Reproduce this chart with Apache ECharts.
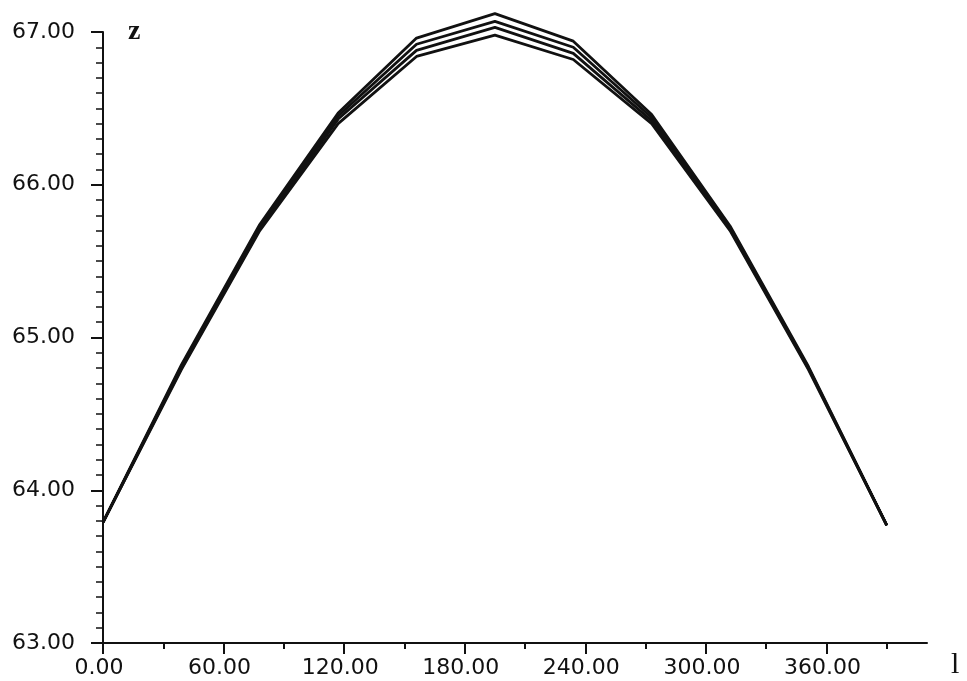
<!DOCTYPE html>
<html>
<head>
<meta charset="utf-8">
<script src="https://cdn.jsdelivr.net/npm/echarts@6/dist/echarts.min.js"></script>
<style>html,body{margin:0;padding:0;background:#fff;}#c{width:967px;height:681px;}</style>
</head>
<body>
<div id="c"></div>
<script>
var xValues = [0, 39, 78, 117, 156, 195, 234, 273, 312, 351, 390];
var line1 = [63.79, 64.82, 65.74, 66.47, 66.96, 67.12, 66.94, 66.46, 65.73, 64.81, 63.77];
var line2 = [63.79, 64.81, 65.72, 66.45, 66.92, 67.07, 66.90, 66.44, 65.72, 64.80, 63.77];
var line3 = [63.79, 64.80, 65.71, 66.43, 66.88, 67.03, 66.86, 66.42, 65.71, 64.80, 63.77];
var line4 = [63.79, 64.79, 65.70, 66.40, 66.84, 66.98, 66.82, 66.40, 65.70, 64.79, 63.77];
var xMajorTicks = [0, 60, 120, 180, 240, 300, 360];
var xMinorTicks = [30, 90, 150, 210, 270, 330, 390];
var yMin = 63, yMax = 67;

var chart = echarts.init(document.getElementById('c'));
function mk(vals){ return xValues.map(function(x,i){ return [x, vals[i]]; }); }
var lineStyle = {color:'#111', width:2.8};
var font = 'DejaVu Sans';
chart.setOption({
  animation:false,
  backgroundColor:'#fff',
  grid:{left:103, right:40, top:32, bottom:38},
  graphic:[{type:'text', left:951, top:650, style:{text:'l', fontFamily:'Liberation Serif', fontSize:30, fill:'#111'}}],
  xAxis:[{
    type:'value', min:0, max:410,
    axisLine:{show:true, lineStyle:{color:'#111', width:2}},
    axisTick:{show:true, customValues:xMajorTicks, length:11, lineStyle:{color:'#111', width:2}},
    axisLabel:{customValues:xMajorTicks, margin:14, color:'#111', fontFamily:font, fontSize:22, padding:[0,8,0,0],
      formatter:function(v){return v.toFixed(2);}},
    splitLine:{show:false}
  },{
    type:'value', min:0, max:410, position:'bottom',
    axisLine:{show:false},
    axisTick:{show:true, customValues:xMinorTicks, length:6, lineStyle:{color:'#111', width:2}},
    axisLabel:{show:false}, splitLine:{show:false}
  }],
  yAxis:{
    type:'value', min:yMin, max:yMax, interval:1,
    axisLine:{show:true, lineStyle:{color:'#111', width:2}},
    axisTick:{show:true, length:12, lineStyle:{color:'#111', width:2}},
    minorTick:{show:true, splitNumber:10, length:7, lineStyle:{color:'#111', width:1.5}},
    axisLabel:{margin:28, color:'#111', fontFamily:font, fontSize:22, formatter:function(v){return v.toFixed(2);}},
    splitLine:{show:false},
    name:'z', nameLocation:'end', nameGap:0,
    nameTextStyle:{fontFamily:'Liberation Serif', fontWeight:'bold', fontSize:28, color:'#111', align:'left', verticalAlign:'middle', padding:[0,0,6,25]}
  },
  series:[line1,line2,line3,line4].map(function(v){
    return {type:'line', xAxisIndex:0, data:mk(v), showSymbol:false, symbol:'none', clip:false, lineStyle:lineStyle, z:2};
  })
});
</script>
</body>
</html>
